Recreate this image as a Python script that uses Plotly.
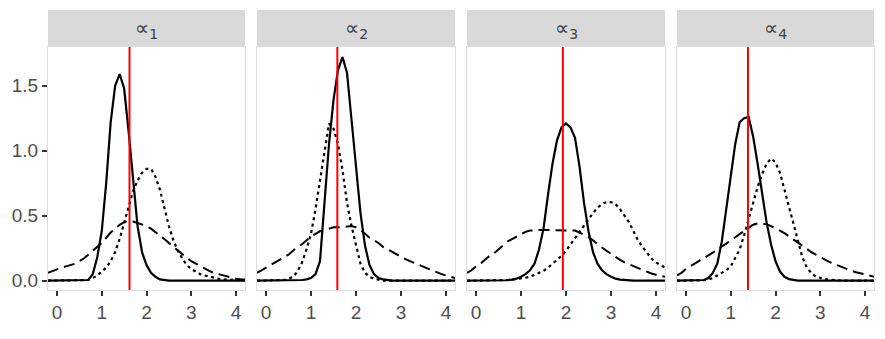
import plotly.graph_objects as go

# common x grid (-0.2 .. 4.2 step 0.1)
x_grid = [round(-0.2 + 0.1 * i, 1) for i in range(45)]

panel_labels = ["∝<sub>1</sub>", "∝<sub>2</sub>", "∝<sub>3</sub>", "∝<sub>4</sub>"]
true_values = [1.62, 1.585, 1.93, 1.385]

solid_1 = [0, 0, 0, 0, 0,  0, 0, 0, 0, 0.005,  0.05, 0.18, 0.38, 0.75, 1.22,
           1.5, 1.59, 1.48, 1.15, 0.78,  0.42, 0.22, 0.12, 0.06, 0.03,
           0.01, 0.003, 0, 0, 0,  0, 0, 0, 0, 0,  0, 0, 0, 0, 0,  0, 0, 0, 0, 0]
dotted_1 = [0, 0, 0, 0, 0,  0, 0, 0, 0, 0.005,  0.02, 0.04, 0.07, 0.1, 0.15,
            0.22, 0.32, 0.45, 0.58, 0.69,  0.77, 0.83, 0.86, 0.86, 0.8,
            0.7, 0.56, 0.42, 0.31, 0.23,  0.17, 0.12, 0.09, 0.07, 0.05,
            0.04, 0.03, 0.02, 0.015, 0.01,  0.008, 0.005, 0.003, 0.002, 0.001]
dashed_1 = [0.06, 0.075, 0.09, 0.1, 0.11,  0.12, 0.13, 0.15, 0.17, 0.2,
            0.23, 0.26, 0.29, 0.33, 0.37,  0.4, 0.43, 0.45, 0.46, 0.455,
            0.445, 0.435, 0.42, 0.4, 0.375,  0.35, 0.32, 0.29, 0.26, 0.23,
            0.2, 0.175, 0.15, 0.13, 0.11,  0.09, 0.075, 0.06, 0.05, 0.04,
            0.03, 0.02, 0.015, 0.01, 0.008]

solid_2 = [0, 0, 0, 0, 0,  0, 0, 0, 0, 0,  0.005, 0.01, 0.02, 0.05, 0.15,
           0.6, 1.05, 1.39, 1.62, 1.72,  1.6, 1.24, 0.85, 0.52, 0.27,
           0.12, 0.05, 0.02, 0.01, 0.003,  0, 0, 0, 0, 0,  0, 0, 0, 0, 0,  0, 0, 0, 0, 0]
dotted_2 = [0, 0, 0, 0, 0,  0, 0.005, 0.015, 0.03, 0.07,  0.14, 0.24, 0.36, 0.55, 0.78,
            1.0, 1.21, 1.17, 1.05, 0.85,  0.6, 0.42, 0.27, 0.13, 0.06,
            0.03, 0.015, 0.008, 0, 0,  0, 0, 0, 0, 0,  0, 0, 0, 0, 0,  0, 0, 0, 0, 0]
dashed_2 = [0.06, 0.08, 0.1, 0.12, 0.14,  0.16, 0.18, 0.2, 0.23, 0.26,
            0.28, 0.31, 0.34, 0.36, 0.38,  0.39, 0.4, 0.41, 0.41, 0.415,
            0.42, 0.42, 0.41, 0.39, 0.36,  0.33, 0.31, 0.29, 0.26, 0.24,
            0.22, 0.2, 0.18, 0.165, 0.15,  0.135, 0.12, 0.105, 0.09, 0.075,
            0.06, 0.05, 0.04, 0.03, 0.02]

solid_3 = [0, 0, 0, 0, 0,  0, 0, 0, 0, 0.003,  0.008, 0.015, 0.03, 0.05, 0.08,
           0.13, 0.24, 0.4, 0.66, 0.9,  1.08, 1.18, 1.21, 1.18, 1.1,
           0.88, 0.6, 0.38, 0.22, 0.13,  0.08, 0.05, 0.03, 0.015, 0.008,
           0.004, 0, 0, 0, 0,  0, 0, 0, 0, 0]
dotted_3 = [0, 0, 0, 0, 0,  0, 0, 0, 0.003, 0.005,  0.008, 0.012, 0.017, 0.022, 0.03,
            0.045, 0.06, 0.075, 0.1, 0.13,  0.16, 0.19, 0.23, 0.28, 0.33,
            0.38, 0.42, 0.47, 0.52, 0.56,  0.59, 0.605, 0.605, 0.59, 0.55,
            0.5, 0.45, 0.38, 0.31, 0.26,  0.21, 0.17, 0.14, 0.12, 0.1]
dashed_3 = [0.06, 0.08, 0.11, 0.13, 0.16,  0.19, 0.21, 0.24, 0.27, 0.3,
            0.32, 0.34, 0.36, 0.375, 0.385,  0.39, 0.39, 0.39, 0.39, 0.39,
            0.39, 0.39, 0.39, 0.39, 0.385,  0.37, 0.355, 0.335, 0.31, 0.28,
            0.255, 0.23, 0.205, 0.18, 0.16,  0.14, 0.125, 0.11, 0.095, 0.08,
            0.065, 0.055, 0.045, 0.035, 0.03]

solid_4 = [0, 0, 0, 0, 0,  0, 0.005, 0.02, 0.06, 0.13,  0.3, 0.55, 0.8, 1.05, 1.22,
           1.25, 1.26, 1.11, 0.9, 0.66,  0.45, 0.28, 0.15, 0.07, 0.03,
           0.012, 0.005, 0, 0, 0,  0, 0, 0, 0, 0,  0, 0, 0, 0, 0,  0, 0, 0, 0, 0]
dotted_4 = [0, 0, 0, 0, 0,  0, 0.003, 0.008, 0.02, 0.04,  0.06, 0.08, 0.11, 0.17, 0.24,
            0.35, 0.48, 0.6, 0.72, 0.82,  0.9, 0.94, 0.91, 0.83, 0.7,
            0.56, 0.42, 0.29, 0.18, 0.1,  0.06, 0.03, 0.02, 0.012, 0.008,
            0.005, 0, 0, 0, 0,  0, 0, 0, 0, 0]
dashed_4 = [0.04, 0.06, 0.09, 0.11, 0.13,  0.15, 0.175, 0.195, 0.215, 0.24,
            0.26, 0.285, 0.31, 0.335, 0.36,  0.385, 0.41, 0.43, 0.44, 0.44,
            0.435, 0.42, 0.405, 0.385, 0.365,  0.34, 0.315, 0.29, 0.265, 0.24,
            0.22, 0.2, 0.18, 0.16, 0.145,  0.13, 0.115, 0.1, 0.09, 0.075,
            0.065, 0.055, 0.045, 0.035, 0.03]

x_ticks = [0, 1, 2, 3, 4]
y_ticks = [0.0, 0.5, 1.0, 1.5]
y_tick_text = ["0.0", "0.5", "1.0", "1.5"]

solids = [solid_1, solid_2, solid_3, solid_4]
dotteds = [dotted_1, dotted_2, dotted_3, dotted_4]
dasheds = [dashed_1, dashed_2, dashed_3, dashed_4]
for arr in solids + dotteds + dasheds:
    assert len(arr) == len(x_grid)

W, H = 885, 339
panel_px = [(48, 245), (257, 455), (467, 665), (677, 874)]
y_dom = [1 - 290 / H, 1 - 47 / H]
strip_dom = [1 - 47 / H, 1 - 10 / H]

fig = go.Figure()
layout = dict(
    width=W, height=H, margin=dict(l=0, r=0, t=0, b=0),
    paper_bgcolor="white", plot_bgcolor="white", showlegend=False,
    font=dict(family="Liberation Sans, Arial, sans-serif"),
)
shapes = []
annotations = []
tick_font = dict(size=19, color="#4D4D4D", family="Liberation Sans, Arial, sans-serif")

for i in range(4):
    sfx = "" if i == 0 else str(i + 1)
    xa, ya = "x" + sfx, "y" + sfx
    for ys, dash, lw in [(dasheds[i], "11px,6px", 2), (dotteds[i], "3px,3.5px", 2.2),
                         (solids[i], "solid", 2.2)]:
        fig.add_trace(go.Scatter(x=x_grid, y=ys, mode="lines", xaxis=xa, yaxis=ya,
                                 line=dict(color="black", width=lw, dash=dash),
                                 hoverinfo="skip"))
    x0, x1 = panel_px[i]
    layout["xaxis" + sfx] = dict(
        domain=[x0 / W, x1 / W], anchor=ya, range=[-0.2, 4.2],
        tickvals=x_ticks, ticks="outside", ticklen=5, tickwidth=2, tickcolor="#333333",
        tickfont=tick_font, showgrid=False, zeroline=False,
        showline=True, mirror=True, linecolor="#DDDDDD", linewidth=1,
    )
    layout["yaxis" + sfx] = dict(
        domain=y_dom, anchor=xa, range=[-0.072, 1.798],
        tickvals=y_ticks, ticktext=y_tick_text,
        ticks="outside" if i == 0 else "", ticklen=5, tickwidth=2, tickcolor="#333333",
        showticklabels=(i == 0), tickfont=tick_font,
        showgrid=False, zeroline=False,
        showline=True, mirror=True, linecolor="#DDDDDD", linewidth=1,
    )
    shapes.append(dict(type="rect", xref="paper", yref="paper",
                       x0=x0 / W, x1=x1 / W, y0=strip_dom[0], y1=strip_dom[1],
                       fillcolor="#D9D9D9", line=dict(width=0), layer="below"))
    shapes.append(dict(type="line", xref=xa, yref=ya + " domain",
                       x0=true_values[i], x1=true_values[i], y0=0, y1=1,
                       line=dict(color="#FF0000", width=2)))
    annotations.append(dict(text=panel_labels[i], xref="paper", yref="paper",
                            x=(x0 + x1) / 2 / W, y=sum(strip_dom) / 2,
                            showarrow=False, xanchor="center", yanchor="middle",
                            font=dict(size=20, color="#404040",
                                      family="DejaVu Sans, sans-serif")))

layout["shapes"] = shapes
layout["annotations"] = annotations
fig.update_layout(**layout)
fig.write_html("out.html")
